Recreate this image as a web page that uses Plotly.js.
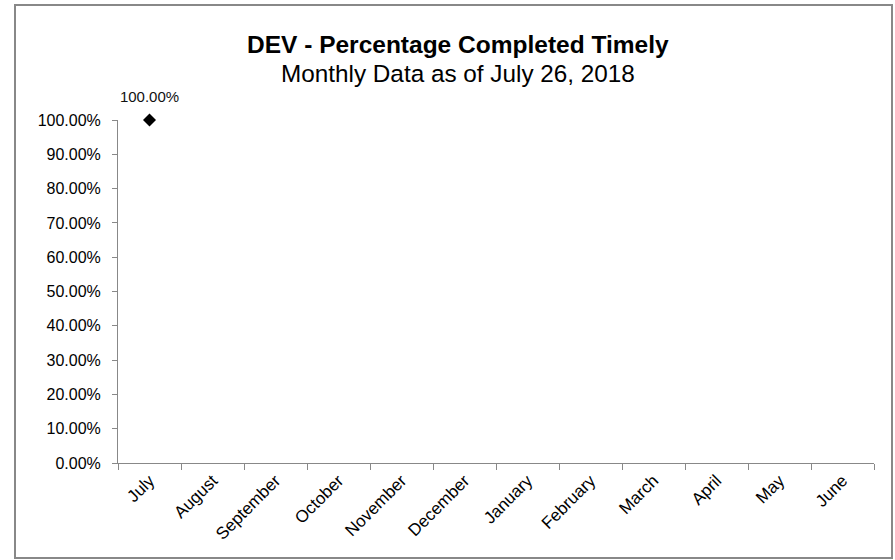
<!DOCTYPE html>
<html>
<head>
<meta charset="utf-8">
<script src="https://cdn.plot.ly/plotly-3.0.1.min.js"></script>
<style>html,body{margin:0;padding:0;background:#fff;}#chart{width:895px;height:560px;}</style>
</head>
<body>
<div id="chart"></div>
<script>
const months = ["July","August","September","October","November","December","January","February","March","April","May","June"];
const pctCompleted = [1.0, null, null, null, null, null, null, null, null, null, null, null];
const yTickValues = [0,0.1,0.2,0.3,0.4,0.5,0.6,0.7,0.8,0.9,1.0];
const titleMain = "DEV - Percentage Completed Timely";
const titleSub = "Monthly Data as of July 26, 2018";

const L = 118, R = 21, T = 120, B = 97, W = 895, H = 560;
const pw = W - L - R, ph = H - T - B;
const px = v => (v - L) / pw;
const py = v => (H - B - v) / ph;

const pointTrace = {
  x: months,
  y: pctCompleted,
  type: 'scatter',
  mode: 'markers',
  marker: {symbol: 'diamond', size: 10, color: '#000'},
  cliponaxis: false,
  hoverinfo: 'x+y'
};

const labelTrace = {
  x: months,
  y: pctCompleted,
  type: 'scatter',
  mode: 'markers+text',
  marker: {symbol: 'circle', size: 22, color: 'rgba(0,0,0,0)'},
  text: pctCompleted.map(v => v == null ? '' : (v*100).toFixed(2) + '%'),
  textposition: 'top center',
  textfont: {family: 'Liberation Sans, Arial, sans-serif', size: 15, color: '#111'},
  cliponaxis: false,
  hoverinfo: 'skip'
};

const layout = {
  width: W, height: H,
  margin: {l: L, r: R, t: T, b: B},
  paper_bgcolor: '#fff', plot_bgcolor: '#fff',
  showlegend: false,
  font: {family: 'Liberation Sans, Arial, sans-serif', color: '#000'},
  xaxis: {
    type: 'category', range: [-0.5, 11.5], tickson: 'boundaries',
    ticks: 'outside', ticklen: 6, tickcolor: '#888', tickwidth: 1,
    showline: true, linecolor: '#888', linewidth: 1,
    showgrid: false, zeroline: false, tickangle: -45,
    tickfont: {size: 17, color: '#000'}
  },
  yaxis: {
    range: [0, 1], tickvals: yTickValues, tickformat: '.2%',
    ticks: 'outside', ticklen: 5, tickcolor: '#888', tickwidth: 1,
    showline: true, linecolor: '#888', linewidth: 1,
    showgrid: false, zeroline: false, ticklabelstandoff: 8,
    tickfont: {size: 16, color: '#000'}
  },
  annotations: [
    {text: '<b>' + titleMain + '</b>', xref: 'paper', yref: 'paper', x: px(458), y: py(45),
     showarrow: false, xanchor: 'center', yanchor: 'middle', font: {size: 24.5, color: '#000'}},
    {text: titleSub, xref: 'paper', yref: 'paper', x: px(458), y: py(74),
     showarrow: false, xanchor: 'center', yanchor: 'middle', font: {size: 24.3, color: '#000'}}
  ],
  shapes: [
    {type: 'rect', xref: 'paper', yref: 'paper', x0: px(15), x1: px(892), y0: py(558), y1: py(5),
     line: {color: '#888', width: 2}, fillcolor: 'rgba(0,0,0,0)', layer: 'below'}
  ]
};

Plotly.newPlot('chart', [labelTrace, pointTrace], layout, {displayModeBar: false, staticPlot: true});
</script>
</body>
</html>
